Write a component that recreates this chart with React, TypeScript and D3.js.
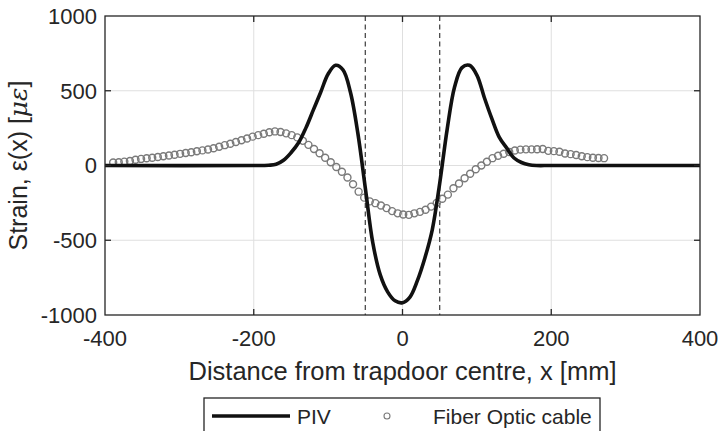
import React, { useEffect } from 'react';
import * as d3 from 'd3';

// PIV strain profile
const pivX = [-400, -200, -180, -170, -160, -150, -140, -130, -120, -110, -100, -90, -80, -70, -60, -50, -40, -30, -20, -10, 0,
  10, 20, 30, 40, 50, 60, 70, 80, 90, 100, 110, 120, 130, 140, 150, 160, 170, 180, 200, 400];
const pivStrain = [0, 0, 2, 8, 35, 85, 150, 250, 370, 490, 612, 670, 640, 490, 215, -150, -515, -730, -845, -905, -918,
  -880, -770, -620, -430, -120, 240, 525, 655, 670, 605, 455, 315, 190, 118, 50, 20, 5, 0, 0, 0];

// Fiber optic cable readings
const fiberX = [-389, -381.5, -374, -366.5, -359, -351.5, -344, -336.5, -329, -321.5, -314, -306.5, -299, -291.5, -284,
  -276.5, -269, -261.5, -254, -246.5, -239, -231.5, -224, -216.5, -209, -201.5, -194, -186.5, -179, -171.5, -164,
  -156.5, -149, -141.5, -134, -126.5, -119, -111.5, -104, -96.5, -89, -81.5, -74, -66.5, -59, -51.5, -44, -36.5,
  -29, -21.5, -14, -6.5, 1, 8.5, 16, 23.5, 31, 38.5, 46, 53.5, 61, 68.5, 76, 83.5, 91, 98.5, 106, 113.5, 121,
  128.5, 136, 143.5, 151, 158.5, 166, 173.5, 181, 188.5, 196, 203.5, 211, 218.5, 226, 233.5, 241, 248.5, 256, 263.5, 271];
const fiberStrain = [20, 22, 26, 30, 38, 44, 48, 52, 57, 62, 67, 72, 78, 84, 89,
  95, 101, 107, 115, 125, 136, 145, 157, 169, 181, 193, 203, 212, 222, 228, 224,
  215, 203, 188, 165, 138, 110, 82, 52, 22, -10, -42, -80, -125, -175, -215, -240, -252,
  -268, -285, -305, -320, -328, -330, -320, -310, -296, -275, -250, -222, -195, -152, -120, -85, -55, -25, 0, 25, 49,
  65, 79, 90, 100, 106, 108, 108, 109, 110, 98, 96, 92, 80, 76, 70, 62, 56, 52, 50, 49];

const xTicks = [-400, -200, 0, 200, 400];
const yTicks = [-1000, -500, 0, 500, 1000];
const trapdoorEdges = [-50, 50];

const W = 720;
const H = 431;
const margin = { left: 105, top: 16, right: 20, bottom: 116 };
const font = 'Arial, "Liberation Sans", Helvetica, sans-serif';
const ink = '#262626';

const App: React.FC = () => {
  useEffect(() => {
    document.body.style.margin = '0';
  }, []);

  const x = d3.scaleLinear().domain([-400, 400]).range([margin.left, W - margin.right]);
  const y = d3.scaleLinear().domain([-1000, 1000]).range([H - margin.bottom, margin.top]);
  const [x0, x1] = x.range();
  const [y0, y1] = y.range();

  const pivLine = d3.line<number>()
    .x((_, i) => x(pivX[i]))
    .y((d) => y(d))
    .curve(d3.curveCatmullRom.alpha(0.5));

  const tick = 6;

  return (
    <svg width={W} height={H} style={{ display: 'block', background: '#fff' }} fontFamily={font}>
      {/* grid */}
      <g stroke="#dfdfdf" strokeWidth={1}>
        {xTicks.slice(1, -1).map((t) => (
          <line key={'gx' + t} x1={x(t)} x2={x(t)} y1={y1} y2={y0} />
        ))}
        {yTicks.slice(1, -1).map((t) => (
          <line key={'gy' + t} x1={x0} x2={x1} y1={y(t)} y2={y(t)} />
        ))}
      </g>

      {/* trapdoor edges */}
      {trapdoorEdges.map((e) => (
        <line key={'e' + e} x1={x(e)} x2={x(e)} y1={y1} y2={y0}
          stroke="#4a4a4a" strokeWidth={1.3} strokeDasharray="5,3.5" />
      ))}

      {/* fiber optic */}
      <g fill="none" stroke="#7a7a7a" strokeWidth={1.4}>
        {fiberStrain.map((v, i) => (
          <circle key={'f' + i} cx={x(fiberX[i])} cy={y(v)} r={3.5} />
        ))}
      </g>

      {/* PIV */}
      <path d={pivLine(pivStrain) || undefined} fill="none" stroke="#111" strokeWidth={3.6} strokeLinejoin="round" />

      {/* axes box + inward ticks */}
      <rect x={x0} y={y1} width={x1 - x0} height={y0 - y1} fill="none" stroke={ink} strokeWidth={1.3} />
      <g stroke={ink} strokeWidth={1.3}>
        {xTicks.slice(1, -1).map((t) => (
          <g key={'tx' + t}>
            <line x1={x(t)} x2={x(t)} y1={y0} y2={y0 - tick} />
            <line x1={x(t)} x2={x(t)} y1={y1} y2={y1 + tick} />
          </g>
        ))}
        {yTicks.slice(1, -1).map((t) => (
          <g key={'ty' + t}>
            <line x1={x0} x2={x0 + tick} y1={y(t)} y2={y(t)} />
            <line x1={x1} x2={x1 - tick} y1={y(t)} y2={y(t)} />
          </g>
        ))}
      </g>

      {/* tick labels */}
      <g fill={ink} fontSize={22}>
        {xTicks.map((t) => (
          <text key={'lx' + t} x={x(t)} y={y0 + 31} textAnchor="middle">{t}</text>
        ))}
        {yTicks.map((t) => (
          <text key={'ly' + t} x={x0 - 8} y={y(t)} dy="0.36em" textAnchor="end">{t}</text>
        ))}
      </g>

      {/* axis labels */}
      <text x={(x0 + x1) / 2} y={380} textAnchor="middle" fontSize={25.5} fill={ink}>
        Distance from trapdoor centre, x [mm]
      </text>
      <text transform={`translate(27,${(y0 + y1) / 2}) rotate(-90)`} textAnchor="middle" fontSize={25} fill={ink}>
        Strain, ε(x) [<tspan fontStyle="italic" fontFamily='"DejaVu Serif", serif'>με</tspan>]
      </text>

      {/* legend */}
      <g>
        <rect x={204} y={398} width={396} height={45} fill="#fff" stroke={ink} strokeWidth={1.3} />
        <line x1={212} x2={290} y1={416} y2={416} stroke="#111" strokeWidth={3.6} />
        <text x={297} y={416} dy="0.36em" fontSize={21} fill={ink}>PIV</text>
        <circle cx={387} cy={416} r={3} fill="none" stroke="#7a7a7a" strokeWidth={1.1} />
        <text x={433} y={416} dy="0.36em" fontSize={21} fill={ink}>Fiber Optic cable</text>
      </g>
    </svg>
  );
};

export default App;
